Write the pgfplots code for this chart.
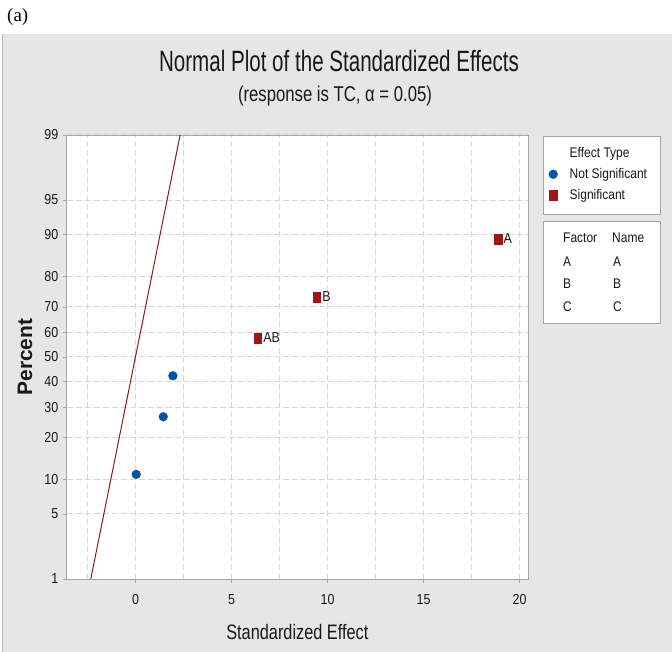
\documentclass[border=0pt]{standalone}
\usepackage{fontspec}
\setmainfont{Liberation Sans}
\newfontfamily\titlefont[FakeStretch=0.70]{Liberation Sans}
\newfontfamily\subfont[FakeStretch=0.78]{Liberation Sans}
\newfontfamily\smallfont[FakeStretch=0.86]{Liberation Sans}
\newfontfamily\seriffont{Liberation Serif}
\usepackage{pgfplots}
\pgfplotsset{compat=1.18}
\usepackage{pgfplotstable}
\definecolor{panelgray}{RGB}{230,230,230}
\definecolor{framegray}{RGB}{165,165,165}
\definecolor{gridgray}{RGB}{215,215,215}
\definecolor{nsblue}{RGB}{0,84,166}
\definecolor{sigred}{RGB}{160,22,22}
\definecolor{linered}{RGB}{140,25,25}
\definecolor{txt}{RGB}{25,25,25}

% y = z-score (inverse normal) of the plotted percent pct
\pgfplotstableread{
x z pct
0.04 -1.2299 10.94
1.45 -0.6262 26.56
1.95 -0.1970 42.19
}\notsig
\pgfplotstableread{
x z pct lab
6.36 0.1970 57.81 AB
9.44 0.6262 73.44 B
18.88 1.2299 89.06 A
}\sig

\begin{document}
\begin{tikzpicture}
\path[use as bounding box] (0bp,0bp) rectangle (672bp,652bp);
\fill[panelgray] (2bp,0bp) rectangle (672bp,618bp);
\draw[gray!55, line width=0.8bp] (2.4bp,0bp) -- (2.4bp,618bp);
\node[font=\seriffont\fontsize{19}{19}\selectfont, anchor=west, inner sep=0pt] at (7bp,635bp) {(a)};
\node[font=\titlefont\fontsize{29.5}{30}\selectfont, anchor=base, text=txt, inner sep=0pt] at (339bp,580bp) {Normal Plot of the Standardized Effects};
\node[font=\subfont\fontsize{21.5}{22}\selectfont, anchor=base, text=txt, inner sep=0pt] at (335bp,550bp) {(response is TC, α = 0.05)};
% legend boxes
\draw[framegray, fill=white, line width=0.8bp] (543bp,438bp) rectangle (660bp,516bp);
\draw[framegray, fill=white, line width=0.8bp] (543bp,329bp) rectangle (660bp,431bp);
\begin{scope}[every node/.style={font=\smallfont\fontsize{14}{15}\selectfont, text=txt, anchor=west, inner sep=0pt}]
\node at (563bp,414bp) {Factor};
\node at (612bp,414bp) {Name};
\node at (563bp,390bp) {A};
\node at (613bp,390bp) {A};
\node at (563bp,368bp) {B};
\node at (613bp,368bp) {B};
\node at (563bp,345bp) {C};
\node at (613bp,345bp) {C};
\end{scope}
\begin{axis}[
  at={(66.7bp,73bp)}, anchor=south west,
  scale only axis, width=461.3bp, height=444bp,
  xmin=-3.58, xmax=20.44, ymin=-2.3263, ymax=2.3263,
  axis background/.style={fill=white},
  axis line style={framegray, line width=0.8bp},
  xtick={0,5,10,15,20}, xticklabels={0,5,10,15,20},
  minor xtick={-2.5,2.5,7.5,12.5,17.5},
  ytick={-2.3263,-1.6449,-1.2816,-0.8416,-0.5244,-0.2533,0,0.2533,0.5244,0.8416,1.2816,1.6449,2.3263},
  yticklabels={1,5,10,20,30,40,50,60,70,80,90,95,99},
  xtick pos=bottom, ytick pos=left,
  tick align=outside, major tick length=4bp, minor tick length=0pt,
  tick style={framegray, line width=0.8bp},
  grid=both,
  major grid style={gridgray, dash pattern=on 6bp off 3bp, line width=1bp},
  minor grid style={gridgray, dash pattern=on 6bp off 3bp, line width=1bp},
  ticklabel style={font=\smallfont\fontsize{14.5}{15}\selectfont, text=txt},
  xticklabel style={yshift=-8bp},
  yticklabel style={xshift=-1bp},
  xlabel={Standardized Effect},
  ylabel={Percent},
  xlabel style={font=\subfont\fontsize{21}{22}\selectfont, text=txt, at={(axis description cs:0.5,-0.119)}, anchor=center},
  ylabel style={font=\bfseries\fontsize{21}{22}\selectfont, text=txt, at={(axis description cs:-0.0904,0.5)}, anchor=center},
  legend cell align=left,
  legend style={at={(axis description cs:1.0445,0.976)}, anchor=north west, draw=none, fill=none,
    inner sep=0pt, row sep=5bp, nodes={inner sep=2bp},
    font=\smallfont\fontsize{14}{15}\selectfont, text=txt},
  legend image code/.code={\path[draw=none, fill=none] (0bp,-5bp) rectangle (19bp,5bp); \draw[#1] plot coordinates {(4.5bp,0bp)};},
]
\addlegendimage{empty legend}
\addlegendentry{Effect Type}
\addplot[linered, line width=1bp, forget plot] coordinates {(-2.3263,-2.3263) (2.3263,2.3263)};
\addplot[only marks, mark=*, mark size=4.4, mark options={draw=nsblue, fill=nsblue}] table[x=x, y=z] {\notsig};
\addlegendentry{Not Significant}
\addplot[only marks, mark=square*, mark size=5, mark options={xscale=0.75, draw=sigred, fill=sigred},
  nodes near coords, point meta=explicit symbolic,
  nodes near coords style={anchor=west, inner sep=0pt, xshift=5.5bp, yshift=1bp, font=\smallfont\fontsize{14.5}{15}\selectfont, text=txt}]
  table[x=x, y=z, meta=lab] {\sig};
\addlegendentry{Significant}
\end{axis}
\end{tikzpicture}
\end{document}
